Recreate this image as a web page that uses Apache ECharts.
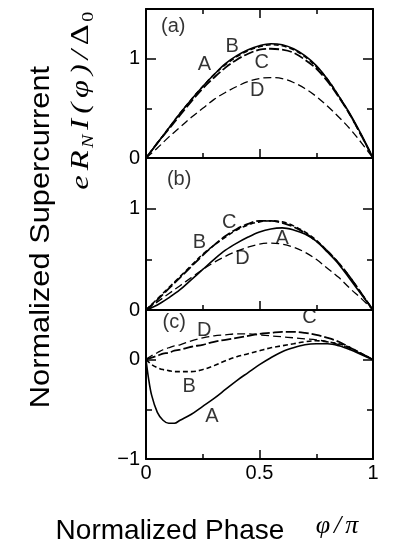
<!DOCTYPE html>
<html>
<head>
<meta charset="utf-8">
<script src="https://cdn.jsdelivr.net/npm/echarts@6/dist/echarts.min.js"></script>
<style>
  html, body { margin: 0; padding: 0; background: #fff; }
  #chart { width: 412px; height: 557px; }
</style>
</head>
<body>
<div id="chart"></div>
<script>
// phase values (φ/π) shared by panels (a) and (b)
const phaseAB = [0, 0.05, 0.1, 0.15, 0.2, 0.25, 0.3, 0.35, 0.4, 0.45, 0.5,
  0.55, 0.6, 0.65, 0.7, 0.75, 0.8, 0.85, 0.9, 0.95, 1];
// panel (c) needs denser points near 0
const phaseC = [0, 0.01, 0.025, 0.05, 0.075, 0.1, 0.125, 0.15, 0.2, 0.25, 0.3,
  0.35, 0.4, 0.45, 0.5, 0.55, 0.6, 0.65, 0.7, 0.75, 0.8, 0.85, 0.9, 0.95, 1];

const panelA = {
  A: [0, 0.15, 0.30, 0.45, 0.59, 0.72, 0.84, 0.95, 1.03, 1.09, 1.13, 1.15, 1.14, 1.10, 1.03, 0.93, 0.79, 0.62, 0.44, 0.23, 0],
  B: [0, 0.15, 0.30, 0.45, 0.59, 0.72, 0.84, 0.94, 1.02, 1.08, 1.12, 1.14, 1.13, 1.09, 1.02, 0.92, 0.79, 0.62, 0.43, 0.22, 0],
  C: [0, 0.15, 0.29, 0.43, 0.57, 0.70, 0.81, 0.91, 0.99, 1.05, 1.09, 1.10, 1.09, 1.06, 0.99, 0.90, 0.77, 0.61, 0.43, 0.22, 0],
  D: [0, 0.10, 0.21, 0.31, 0.41, 0.50, 0.59, 0.66, 0.72, 0.77, 0.80, 0.81, 0.80, 0.76, 0.70, 0.62, 0.52, 0.41, 0.29, 0.15, 0]
};
const panelB = {
  A: [0, 0.05, 0.12, 0.20, 0.30, 0.40, 0.50, 0.59, 0.66, 0.72, 0.77, 0.80, 0.81, 0.79, 0.75, 0.68, 0.57, 0.45, 0.30, 0.15, 0],
  B: [0, 0.11, 0.22, 0.33, 0.44, 0.55, 0.64, 0.72, 0.79, 0.84, 0.87, 0.88, 0.87, 0.83, 0.77, 0.69, 0.58, 0.46, 0.32, 0.16, 0],
  C: [0, 0.10, 0.21, 0.32, 0.43, 0.54, 0.64, 0.73, 0.80, 0.85, 0.88, 0.88, 0.86, 0.82, 0.76, 0.68, 0.58, 0.46, 0.32, 0.16, 0],
  D: [0, 0.08, 0.16, 0.24, 0.32, 0.40, 0.47, 0.53, 0.58, 0.62, 0.65, 0.66, 0.65, 0.62, 0.57, 0.50, 0.41, 0.32, 0.21, 0.11, 0]
};
const panelC = {
  A: [0, -0.17, -0.36, -0.53, -0.61, -0.64, -0.64, -0.61, -0.55, -0.47, -0.39, -0.30, -0.21, -0.13, -0.05, 0.02, 0.08, 0.12, 0.15, 0.16, 0.16, 0.14, 0.10, 0.05, 0],
  B: [0, -0.02, -0.05, -0.08, -0.10, -0.11, -0.12, -0.12, -0.12, -0.10, -0.06, -0.01, 0.03, 0.06, 0.09, 0.12, 0.14, 0.16, 0.18, 0.19, 0.18, 0.16, 0.12, 0.06, 0],
  C: [0, 0.01, 0.02, 0.04, 0.06, 0.07, 0.09, 0.10, 0.13, 0.15, 0.18, 0.20, 0.22, 0.24, 0.26, 0.27, 0.28, 0.28, 0.27, 0.25, 0.22, 0.18, 0.12, 0.06, 0],
  D: [0, 0.02, 0.04, 0.07, 0.10, 0.12, 0.14, 0.15, 0.19, 0.22, 0.24, 0.25, 0.26, 0.26, 0.25, 0.24, 0.23, 0.22, 0.21, 0.20, 0.18, 0.15, 0.11, 0.06, 0]
};

// text tags inside each panel: [text, φ/π, value]
const tagsA = [["(a)", 0.12, 1.32], ["A", 0.257, 0.94], ["B", 0.38, 1.12], ["C", 0.51, 0.96], ["D", 0.49, 0.68]];
const tagsB = [["(b)", 0.146, 1.29], ["B", 0.235, 0.67], ["C", 0.367, 0.86], ["D", 0.425, 0.51], ["A", 0.60, 0.71]];
const tagsC = [["(c)", 0.124, 0.37], ["D", 0.257, 0.29], ["C", 0.72, 0.42], ["B", 0.19, -0.27], ["A", 0.29, -0.57]];

const yRanges = [[0, 1.5], [0, 1.5], [-1, 0.5]];

const lineStyles = {
  A: { type: "solid", width: 1.6 },
  B: { type: [5, 3], width: 1.6 },
  C: { type: [10, 3], width: 1.8 },
  D: { type: [8, 4], width: 1.3 }
};

const SANS = "Liberation Sans";
const SERIF = "Liberation Serif";

const chart = echarts.init(document.getElementById("chart"));

// panels share their borders: a.bottom = b.top, b.bottom = c.top
const grids = [
  { left: 146, width: 227, top: 9, height: 149 },
  { left: 146, width: 227, top: 158, height: 152 },
  { left: 146, width: 227, top: 310, height: 149 }
];

const xAxes = [];
const yAxes = [];
grids.forEach((g, i) => {
  const tickSide = {
    axisLine: { show: true, onZero: false, lineStyle: { color: "#000", width: 2 } },
    splitLine: { show: false }
  };
  xAxes.push({
    type: "value", gridIndex: i, position: "bottom", min: 0, max: 1, interval: 0.5,
    ...tickSide,
    axisTick: { show: true, inside: true, length: 9, lineStyle: { color: "#000", width: 1.5 } },
    minorTick: { show: true, splitNumber: 2, length: 5, lineStyle: { color: "#000", width: 1.5 } },
    axisLabel: {
      show: i === 2, color: "#000", fontFamily: SANS, fontSize: 20, margin: 4,
      formatter: (v) => String(v)
    }
  });
  // only the top panel has its own top frame; the others reuse the panel above
  xAxes.push({
    type: "value", gridIndex: i, position: "top", min: 0, max: 1, interval: 0.5,
    show: i === 0,
    ...tickSide,
    axisTick: { show: true, inside: true, length: 9, lineStyle: { color: "#000", width: 1.5 } },
    minorTick: { show: true, splitNumber: 2, length: 5, lineStyle: { color: "#000", width: 1.5 } },
    axisLabel: { show: false }
  });
  const [ymin, ymax] = yRanges[i];
  yAxes.push({
    type: "value", gridIndex: i, position: "left", min: ymin, max: ymax, interval: 1,
    ...tickSide,
    axisTick: { show: true, inside: true, length: 10, lineStyle: { color: "#000", width: 1.5 } },
    minorTick: { show: true, splitNumber: 2, length: 6, lineStyle: { color: "#000", width: 1.5 } },
    axisLabel: {
      color: "#000", fontFamily: SANS, fontSize: 20, margin: 6,
      formatter: (v) => {
        if (!Number.isInteger(v)) return "";
        return v < 0 ? "\u2212" + Math.abs(v) : String(v);
      }
    }
  });
  yAxes.push({
    type: "value", gridIndex: i, position: "right", min: ymin, max: ymax, interval: 1,
    ...tickSide,
    axisTick: { show: true, inside: true, length: 10, lineStyle: { color: "#000", width: 1.5 } },
    minorTick: { show: true, splitNumber: 2, length: 6, lineStyle: { color: "#000", width: 1.5 } },
    axisLabel: { show: false }
  });
});

const series = [];
[[panelA, phaseAB, tagsA], [panelB, phaseAB, tagsB], [panelC, phaseC, tagsC]].forEach(([panel, phase, tags], i) => {
  ["D", "C", "B", "A"].forEach((key) => {
    series.push({
      type: "line",
      xAxisIndex: i * 2,
      yAxisIndex: i * 2,
      smooth: 0.35,
      showSymbol: false,
      silent: true,
      data: phase.map((x, k) => [x, panel[key][k]]),
      lineStyle: { color: "#000", ...lineStyles[key] }
    });
  });
  series.push({
    type: "scatter",
    xAxisIndex: i * 2,
    yAxisIndex: i * 2,
    symbolSize: 1,
    itemStyle: { color: "transparent" },
    silent: true,
    z: 5,
    data: tags.map((t) => ({ name: t[0], value: [t[1], t[2]] })),
    label: {
      show: true, position: "inside", formatter: "{b}",
      color: "#000", fontFamily: SANS, fontSize: 20, textBorderWidth: 0
    }
  });
});

const mathTok = { fontFamily: SERIF, fontStyle: "italic", fontSize: 26, lineHeight: 32, padding: [0, 2, 0, 2] };

chart.setOption({
  animation: false,
  backgroundColor: "#fff",
  grid: grids,
  xAxis: xAxes,
  yAxis: yAxes,
  series: series,
  graphic: [
    {
      type: "text", x: 41, y: 237, rotation: Math.PI / 2, scaleX: 1.1,
      style: {
        text: "Normalized Supercurrent", fill: "#000",
        fontFamily: SANS, fontSize: 28, align: "center", verticalAlign: "middle"
      }
    },
    {
      type: "text", x: 81, y: 102, rotation: Math.PI / 2, scaleX: 1.25,
      style: {
        text: "{m|e}{m|R}{s|N}{m|I}{m|(}{m|φ}{m|)}{m|/}{u|Δ}{r|0}",
        fill: "#000", align: "center", verticalAlign: "middle",
        rich: {
          m: mathTok,
          u: { ...mathTok, fontStyle: "normal" },
          s: { fontFamily: SERIF, fontStyle: "italic", fontSize: 16, lineHeight: 15, verticalAlign: "bottom", padding: [0, 2, 0, 0] },
          r: { fontFamily: SERIF, fontSize: 16, lineHeight: 15, verticalAlign: "bottom" }
        }
      }
    },
    {
      type: "text", x: 170, y: 531,
      style: {
        text: "Normalized Phase", fill: "#000",
        fontFamily: SANS, fontSize: 28, align: "center", verticalAlign: "middle"
      }
    },
    {
      type: "text", x: 337, y: 526,
      style: {
        text: "{m|φ}{m|/}{m|π}", fill: "#000", align: "center", verticalAlign: "middle",
        rich: { m: mathTok }
      }
    }
  ]
});
</script>
</body>
</html>
